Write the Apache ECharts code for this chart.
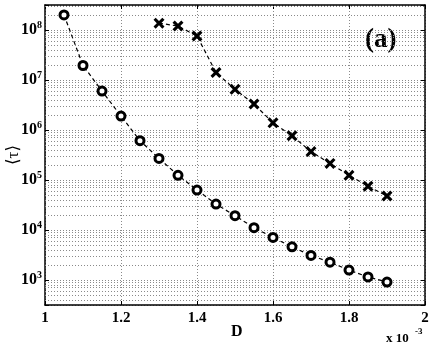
<!DOCTYPE html>
<html>
<head>
<meta charset="utf-8">
<script src="https://cdn.jsdelivr.net/npm/echarts@6/dist/echarts.min.js"></script>
<style>
  html, body { margin: 0; padding: 0; background: #fff; }
  #main { width: 432px; height: 346px; }
</style>
</head>
<body>
<div id="main"></div>
<script>
// D values (x 10^-3)
const circleD = [1.05, 1.10, 1.15, 1.20, 1.25, 1.30, 1.35, 1.40, 1.45, 1.50, 1.55, 1.60, 1.65, 1.70, 1.75, 1.80, 1.85, 1.90]
const circleTau = [2.0e8, 1.95e7, 6.0e6, 1.9e6, 6.1e5, 2.7e5, 1.24e5, 6.3e4, 3.3e4, 1.93e4, 1.11e4, 7.1e3, 4.6e3, 3.1e3, 2.27e3, 1.58e3, 1.15e3, 9.1e2]
const crossD = [1.30, 1.35, 1.40, 1.45, 1.50, 1.55, 1.60, 1.65, 1.70, 1.75, 1.80, 1.85, 1.90]
const crossTau = [1.37e8, 1.2e8, 7.6e7, 1.41e7, 6.5e6, 3.3e6, 1.39e6, 7.7e5, 3.7e5, 2.15e5, 1.24e5, 7.5e4, 4.8e4]

// axis ranges
const xMin = 1, xMax = 2, xStep = 0.2
const yMin = 316.2278, yMax = 3.1623e8
// minor grid (2..9 in each decade)
const decades = [100, 1e3, 1e4, 1e5, 1e6, 1e7, 1e8]
const minorMult = [2, 3, 4, 5, 6, 7, 8, 9]

const serif = "'Liberation Serif', 'DejaVu Serif', serif"
const dotted = { color: '#8a8a8a', type: [1, 2], width: 1 }

let minorLines = []
decades.forEach(d => {
  minorMult.forEach(m => {
    let v = d * m
    if (v > yMin && v < yMax) minorLines.push({ yAxis: v })
  })
})

function pairs(xs, ys) {
  return xs.map((x, i) => [x, ys[i]])
}

let chart = echarts.init(document.getElementById('main'), null, { renderer: 'canvas' })

let option = {
  animation: false,
  backgroundColor: '#ffffff',
  grid: { left: 45, right: 7, top: 5, bottom: 41, outerBoundsMode: 'none' },
  xAxis: [
    {
      type: 'value',
      min: xMin, max: xMax, interval: xStep,
      axisLine: { lineStyle: { color: '#000', width: 1.5 } },
      axisTick: { inside: true, length: 4, lineStyle: { color: '#000' } },
      axisLabel: { color: '#000', fontFamily: serif, fontWeight: 'bold', fontSize: 15, margin: 6 },
      splitLine: { show: true, lineStyle: dotted }
    },
    {
      type: 'value', position: 'top',
      min: xMin, max: xMax, interval: xStep,
      axisLine: { show: true, lineStyle: { color: '#000', width: 1.5 } },
      axisTick: { show: true, inside: true, length: 4, lineStyle: { color: '#000' } },
      axisLabel: { show: false },
      splitLine: { show: false }
    }
  ],
  yAxis: [
    {
      type: 'log', logBase: 10,
      min: yMin, max: yMax,
      name: '\u27E8\u03C4\u27E9',
      nameLocation: 'middle', nameRotate: 90, nameGap: 23,
      nameMoveOverlap: false,
      nameTextStyle: { color: '#000', fontFamily: serif, fontSize: 17 },
      axisLine: { show: true, lineStyle: { color: '#000', width: 1.5 } },
      axisTick: { inside: true, length: 4, lineStyle: { color: '#000' } },
      axisLabel: {
        margin: 3,
        formatter: v => {
          let e = Math.log10(v)
          if (Math.abs(e - Math.round(e)) > 0.01) return ''
          return '{b|10}{s|' + Math.round(e) + '}'
        },
        rich: {
          b: { fontFamily: serif, fontWeight: 'bold', fontSize: 16, color: '#000' },
          s: { fontFamily: serif, fontWeight: 'bold', fontSize: 10, color: '#000', verticalAlign: 'top', padding: [0, 0, 9, 0] }
        }
      },
      splitLine: { show: true, lineStyle: dotted }
    },
    {
      type: 'log', logBase: 10, position: 'right',
      min: yMin, max: yMax,
      axisLine: { show: true, lineStyle: { color: '#000', width: 1.5 } },
      axisTick: { show: true, inside: true, length: 4, lineStyle: { color: '#000' } },
      axisLabel: { show: false },
      splitLine: { show: false }
    }
  ],
  graphic: [
    {
      type: 'text', left: 231, top: 324,
      style: { text: 'D', font: 'bold 16px ' + serif, fill: '#000' }
    },
    {
      type: 'text', left: 386, top: 332,
      style: { text: 'x 10', font: 'bold 13px ' + serif, fill: '#000' }
    },
    {
      type: 'text', left: 415, top: 327,
      style: { text: '-3', font: 'bold 9px ' + serif, fill: '#000' }
    },
    {
      type: 'text', left: 365, top: 27,
      style: { text: '(a)', font: 'bold 27px ' + serif, fill: '#000' }
    }
  ],
  series: [
    {
      type: 'line',
      data: pairs(circleD, circleTau),
      symbol: 'circle',
      symbolSize: 8,
      itemStyle: { color: '#fff', borderColor: '#000', borderWidth: 3 },
      lineStyle: { color: '#000', width: 1.2, type: [4, 3] },
      z: 5,
      markLine: {
        silent: true,
        symbol: ['none', 'none'],
        label: { show: false },
        lineStyle: dotted,
        data: minorLines,
        z: 1
      }
    },
    {
      type: 'line',
      data: pairs(crossD, crossTau),
      symbol: 'path://M2,0 L5,3 L8,0 L10,2 L7,5 L10,8 L8,10 L5,7 L2,10 L0,8 L3,5 L0,2 Z',
      symbolSize: 11,
      itemStyle: { color: '#000' },
      lineStyle: { color: '#000', width: 1.2, type: [4, 3] },
      z: 5
    }
  ]
}

chart.setOption(option)
window.addEventListener('resize', () => {
  chart.resize()
})
</script>
</body>
</html>
